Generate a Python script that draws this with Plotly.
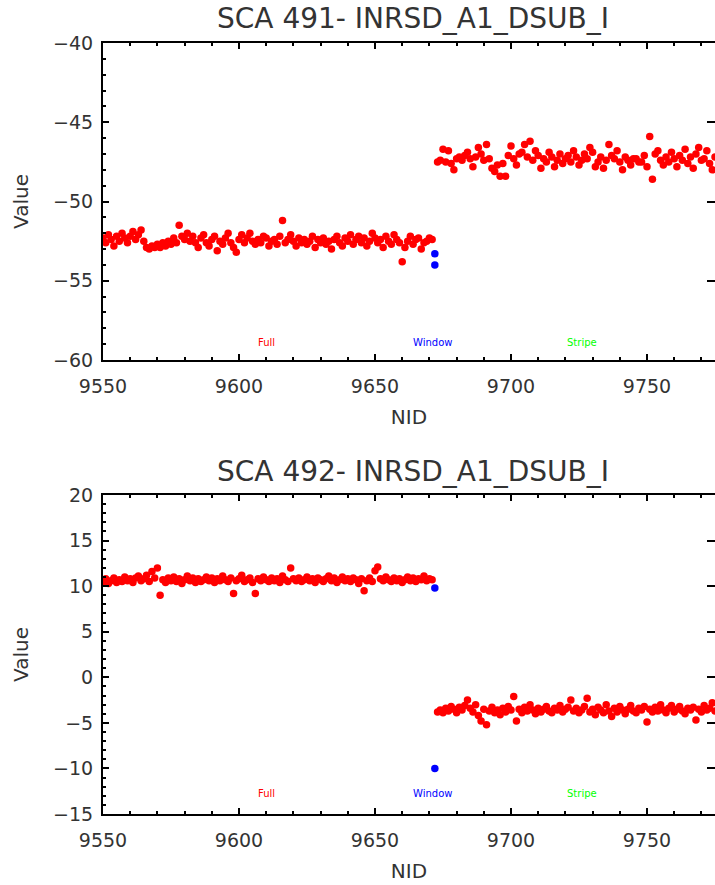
import plotly.graph_objects as go

# ---------------- data ----------------
nid_full1 = list(range(9550, 9672))   # first "Full" block
nid_window = [9672, 9672]
nid_full2 = list(range(9673, 9776))   # second block

top_full1 = [-52.3, -52.6, -52.1, -52.4, -52.8, -52.2, -52.5, -52.0, -52.3, -52.6,
             -52.2, -51.9, -52.4, -52.1, -51.8, -52.5, -52.9, -53.0, -52.8, -52.9,
             -52.7, -52.9, -52.6, -52.8, -52.5, -52.7, -52.3, -52.6, -51.5, -52.2,
             -52.4, -52.0, -52.5, -52.2, -52.6, -52.9, -52.3, -52.1, -52.6, -52.8,
             -52.4, -52.2, -53.1, -52.5, -52.7, -52.3, -52.0, -52.6, -52.9, -53.2,
             -52.4, -52.1, -52.6, -52.3, -52.0, -52.5, -52.7, -52.4, -52.6, -52.2,
             -52.3, -52.8, -52.5, -52.4, -52.7, -52.2, -51.2, -52.6, -52.4, -52.1,
             -52.5, -52.8, -52.3, -52.6, -52.4, -52.7, -52.5, -52.2, -52.9, -52.4,
             -52.6, -52.3, -52.7, -52.5, -53.0, -52.4, -52.2, -52.6, -52.8, -52.3,
             -52.5, -52.1, -52.7, -52.4, -52.2, -52.6, -52.3, -52.8, -52.5, -52.0,
             -52.3, -52.6, -52.4, -52.9, -52.2, -52.5, -52.7, -52.1, -52.4, -52.6,
             -53.8, -52.9, -52.5, -52.2, -52.7, -52.4, -52.3, -53.0, -52.6, -52.5,
             -52.3, -52.4]
top_window = [-54.0, -53.3]
top_full2 = [-47.5, -47.4, -46.7, -47.5, -46.8, -47.6, -48.0, -47.3, -47.2, -47.4,
             -47.1, -46.9, -47.3, -47.8, -47.2, -46.6, -47.0, -47.4, -46.4, -47.3,
             -47.9, -48.1, -47.7, -48.4, -47.6, -48.4, -47.1, -46.5, -47.3, -47.7,
             -47.0, -46.9, -46.4, -47.2, -46.2, -47.4, -46.8, -47.1, -47.9, -47.3,
             -47.5, -46.9, -47.2, -47.8, -47.4, -47.0, -47.6, -47.3, -47.1, -47.5,
             -46.8, -47.2, -47.7, -47.4, -47.0, -47.3, -46.6, -46.9, -47.8, -47.5,
             -47.2, -47.9, -47.4, -46.4, -47.1, -47.3, -46.8, -47.5, -48.0, -47.2,
             -47.4, -47.7, -47.3, -47.3, -47.5, -47.5, -47.1, -47.8, -45.9, -48.6,
             -47.0, -46.8, -47.4, -47.7, -47.2, -47.5, -46.9, -47.3, -47.8, -47.1,
             -47.4, -46.7, -47.6, -47.2, -47.9, -47.0, -46.6, -47.4, -47.3, -46.8,
             -47.6, -48.0, -47.2]

bot_full1 = [10.5, 10.8, 10.3, 10.6, 10.9, 10.4, 10.7, 10.5, 11.0, 10.6,
             10.8, 10.4, 10.9, 11.1, 10.6, 10.8, 11.2, 10.5, 11.6, 10.9,
             12.0, 9.0, 10.7, 10.4, 10.9, 10.6, 11.0, 10.5, 10.8, 10.3,
             10.7, 11.1, 10.6, 10.9, 10.4, 10.8, 10.5, 10.7, 11.0, 10.6,
             10.9, 10.4, 10.8, 10.6, 11.1, 10.7, 10.5, 10.9, 9.2, 10.6,
             10.8, 11.2, 10.5, 10.7, 10.9, 10.4, 9.2, 10.8, 10.6, 11.0,
             10.7, 10.5, 10.9, 10.6, 10.8, 10.4, 11.1, 10.7, 10.5, 12.0,
             10.8, 10.6, 10.9, 10.5, 10.7, 11.0, 10.6, 10.8, 10.4, 10.9,
             10.7, 10.5, 10.8, 11.1, 10.6, 10.9, 10.4, 10.7, 11.0, 10.6,
             10.8, 10.5, 10.9, 10.7, 10.3, 10.8, 9.5, 10.6, 10.9, 10.5,
             11.7, 12.1, 10.8, 10.6, 11.0, 10.7, 10.5, 10.9, 10.6, 10.8,
             10.4, 10.7, 11.0, 10.6, 10.9, 10.5, 10.8, 10.7, 11.1, 10.6,
             10.8, 10.7]
bot_window = [9.8, -10.0]
bot_full2 = [-3.8, -3.6, -3.9, -3.4, -3.7, -3.2, -3.5, -3.9, -3.3, -3.6,
             -3.1, -2.5, -3.4, -3.8, -3.0, -4.2, -4.8, -3.5, -5.2, -3.7,
             -3.3, -3.9, -3.6, -4.1, -3.4, -3.8, -3.2, -3.6, -2.1, -4.8,
             -3.5, -3.9, -3.3, -3.7, -3.0, -3.6, -4.0, -3.4, -3.8, -3.5,
             -3.2, -3.7, -3.9, -3.4, -3.6, -3.1, -3.8, -3.5, -3.3, -2.5,
             -3.7, -3.4, -3.9, -3.6, -3.2, -2.3, -3.8, -3.5, -4.1, -3.3,
             -3.6, -3.9, -3.0, -3.7, -4.3, -3.4, -3.8, -3.2, -3.6, -4.0,
             -3.5, -3.1, -3.7, -3.9, -3.4, -3.6, -3.2, -4.9, -3.5, -3.8,
             -3.3, -3.7, -3.0, -3.6, -3.9, -3.4, -3.1, -3.8, -3.5, -3.2,
             -3.7, -4.0, -3.4, -3.6, -3.3, -4.7, -3.5, -3.8, -3.1, -3.6,
             -3.4, -2.8, -3.7]

titles = ["SCA 491- INRSD_A1_DSUB_I", "SCA 492- INRSD_A1_DSUB_I"]
x_range = [9550, 9775]
y_ranges = [[-60, -40], [-15, 20]]
label_texts = ["Full", "Window", "Stripe"]
label_x = [9610, 9671, 9726]
label_y = [-58.9, -12.8]
x_ticks = [9550, 9600, 9650, 9700, 9750]

# ---------------- figure ----------------
W, H = 715, 885
FONT = "DejaVu Sans"
TXT = "#333333"

def fy(px):
    return 1 - px / H

doms = [[fy(360), fy(43)], [fy(814), fy(495)]]
xdom = [103 / W, 1.0]

fig = go.Figure()

panels = [(top_full1, top_window, top_full2), (bot_full1, bot_window, bot_full2)]
for i, (f1, w, f2) in enumerate(panels):
    xa = "x" if i == 0 else "x2"
    ya = "y" if i == 0 else "y2"
    fig.add_trace(go.Scatter(x=nid_full1, y=f1, mode="markers", xaxis=xa, yaxis=ya,
                             marker=dict(color="#ff0000", size=7.5, line=dict(width=0)),
                             showlegend=False))
    fig.add_trace(go.Scatter(x=nid_window, y=w, mode="markers", xaxis=xa, yaxis=ya,
                             marker=dict(color="#0000ff", size=7.5, line=dict(width=0)),
                             showlegend=False))
    fig.add_trace(go.Scatter(x=nid_full2, y=f2, mode="markers", xaxis=xa, yaxis=ya,
                             marker=dict(color="#ff0000", size=7.5, line=dict(width=0)),
                             showlegend=False))

axis_common = dict(showgrid=False, zeroline=False, showline=True, linecolor="black",
                   linewidth=2, ticks="inside", tickcolor="black", tickwidth=2,
                   automargin=False,
                   tickfont=dict(family=FONT, size=19, color=TXT))

for i in range(2):
    sfx = "" if i == 0 else "2"
    yname = "y" if i == 0 else "y2"
    xname = "x" if i == 0 else "x2"
    fig.layout["xaxis" + sfx] = dict(
        axis_common, domain=xdom, anchor=yname, range=x_range, tickmode="array",
        tickvals=x_ticks, ticklen=6, mirror="ticks",
        minor=dict(dtick=10, tick0=9550, ticks="inside", ticklen=3, tickcolor="black", tickwidth=2),
        ticklabelstandoff=8,
        title=dict(text="NID", font=dict(family=FONT, size=20, color=TXT), standoff=14))
    fig.layout["yaxis" + sfx] = dict(
        axis_common, domain=doms[i], anchor=xname, range=y_ranges[i], dtick=5,
        ticklen=6, mirror=False, ticklabelstandoff=4,
        minor=dict(dtick=1, ticks="inside", ticklen=3, tickcolor="black", tickwidth=2),
        title=dict(text="Value", font=dict(family=FONT, size=20, color=TXT), standoff=19))

# right-side ticks (the right spine lies just outside the window)
fig.update_layout(
    yaxis3=dict(overlaying="y", anchor="x", side="right", range=y_ranges[0], dtick=5,
                showline=False, showgrid=False, zeroline=False, ticks="inside", automargin=False,
                ticklen=8, tickwidth=2, tickcolor="black", showticklabels=False),
    yaxis4=dict(overlaying="y2", anchor="x2", side="right", range=y_ranges[1], dtick=5,
                showline=False, showgrid=False, zeroline=False, ticks="inside", automargin=False,
                ticklen=8, tickwidth=2, tickcolor="black", showticklabels=False),
)
fig.add_trace(go.Scatter(x=[], y=[], xaxis="x", yaxis="y3", showlegend=False))
fig.add_trace(go.Scatter(x=[], y=[], xaxis="x2", yaxis="y4", showlegend=False))

label_colors = ["#ff0000", "#0000ff", "#00ff00"]
for i in range(2):
    xr = "x" if i == 0 else "x2"
    yr = "y" if i == 0 else "y2"
    for t, lx, c in zip(label_texts, label_x, label_colors):
        fig.add_annotation(x=lx, y=label_y[i], xref=xr, yref=yr, text=t, showarrow=False,
                           font=dict(family=FONT, size=10, color=c))
    # panel titles
    fig.add_annotation(x=413 / W, y=fy(18 if i == 0 else 471), xref="paper", yref="paper",
                       text=titles[i], showarrow=False, xanchor="center", yanchor="middle",
                       font=dict(family=FONT, size=28, color=TXT))

fig.update_layout(width=W, height=H, margin=dict(l=0, r=0, t=0, b=0),
                  paper_bgcolor="white", plot_bgcolor="white", showlegend=False)

fig.write_html("out.html", config={"displayModeBar": False},
               post_script="document.body.style.margin='0px';document.body.style.overflow='hidden';")
